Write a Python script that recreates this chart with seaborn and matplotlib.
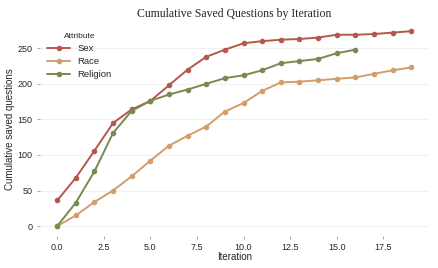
import pandas as pd
import matplotlib.pyplot as plt
import seaborn as sns

# Valores
sex_vals = [36, 68, 106, 145, 164, 176, 198, 220, 238, 248, 257, 260, 262, 263, 265, 269, 269, 270, 272, 274]
race_vals = [0, 15, 34, 50, 70, 92, 113, 127, 140, 161, 173, 190, 202, 203, 205, 207, 209, 214, 219, 223]
religion_vals = [0, 33, 77, 131, 162, 176, 185, 192, 200, 208, 212, 219, 229, 232, 235, 243, 248]
attributes = ["Sex", "Race", "Religion"]
palette = {"Sex": "#b5584c", "Race": "#d29e6a", "Religion": "#798a4f"}

rows = []
for name, vals in zip(attributes, [sex_vals, race_vals, religion_vals]):
    for i, v in enumerate(vals):
        rows.append({"Iteration": i, "Saved": v, "Attribute": name})
data = pd.DataFrame(rows)

sns.set_theme(style="whitegrid")
plt.rcParams['font.family'] = ['Liberation Sans', 'DejaVu Sans']

fig = plt.figure(figsize=(4.39, 2.68), dpi=100)
ax = fig.add_axes([0.09, 0.12, 0.887, 0.80])

sns.lineplot(data=data, x="Iteration", y="Saved", hue="Attribute", palette=palette,
             hue_order=attributes, marker="o", markersize=4, markeredgewidth=0,
             linewidth=1.4, ax=ax)

ax.set_facecolor("white")
for s in ax.spines.values():
    s.set_visible(False)
ax.grid(axis="x", visible=False)
ax.grid(axis="y", color="#f0f0f0", linewidth=0.8)
ax.tick_params(axis="both", labelsize=6.5, length=2, width=0.6, color="#999999", pad=3)
ax.tick_params(axis="y", left=True)
ax.tick_params(axis="x", bottom=True)
ax.set_yticks([0, 50, 100, 150, 200, 250])
ax.set_xticks([0, 2.5, 5, 7.5, 10, 12.5, 15, 17.5])

ax.set_xlabel("Iteration", fontsize=7, labelpad=0)
ax.set_ylabel("Cumulative saved questions", fontsize=7, labelpad=2)
ax.set_title("Cumulative Saved Questions by Iteration", fontsize=8.5,
             family=["Liberation Serif", "DejaVu Serif"], pad=3)

leg = ax.legend(title="Attribute", loc="upper left", bbox_to_anchor=(0.01, 0.965),
                fontsize=6.8, title_fontsize=6, frameon=False,
                handlelength=2.4, labelspacing=0.45, borderaxespad=0)

plt.savefig("out.png", dpi=100)
plt.close()
